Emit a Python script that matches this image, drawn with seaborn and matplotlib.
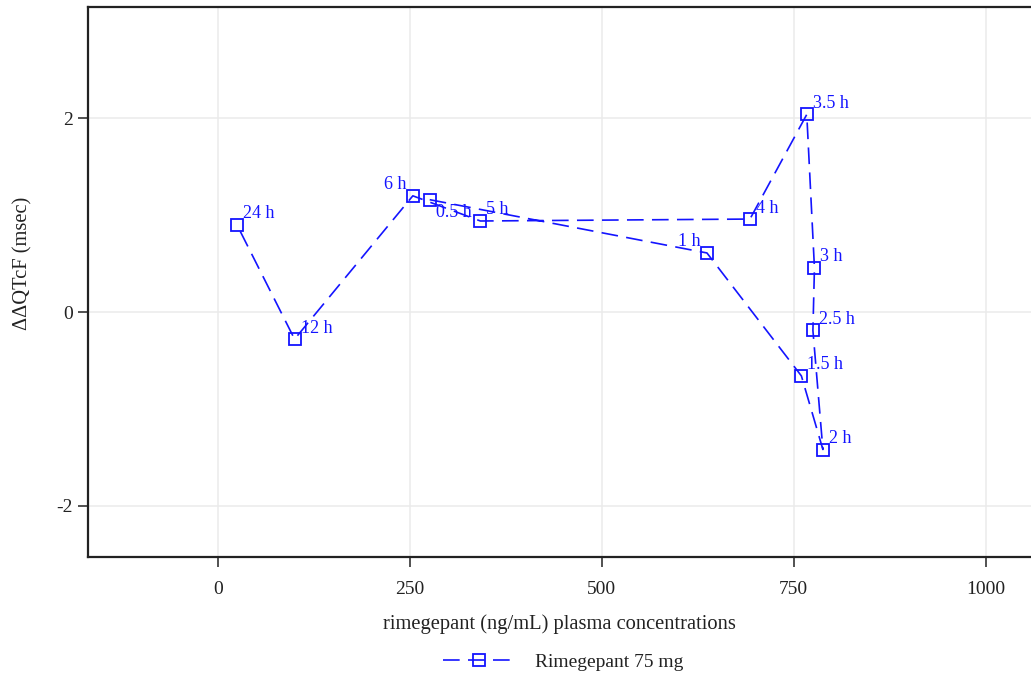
import numpy as np
import pandas as pd
import matplotlib
matplotlib.use("Agg")
import matplotlib.pyplot as plt
import seaborn as sns
from matplotlib.lines import Line2D

# Data
time_labels = ["0.5 h", "1 h", "1.5 h", "2 h", "2.5 h", "3 h", "3.5 h", "4 h", "5 h", "6 h", "12 h", "24 h"]
concentration = [276, 637, 760, 788, 775, 777, 767, 693, 342, 254, 100, 25]
ddqtcf = [1.16, 0.61, -0.66, -1.42, -0.19, 0.455, 2.04, 0.96, 0.94, 1.20, -0.28, 0.90]
label_side = ["below", "left", "right", "right", "right", "right", "right", "right", "right", "left", "right", "right"]
series_name = "Rimegepant 75 mg"

df = pd.DataFrame({"conc": concentration, "dd": ddqtcf, "lab": time_labels})

sns.set_theme(style="white")
plt.rcParams["font.family"] = ["Liberation Serif", "DejaVu Serif"]

fig = plt.figure(figsize=(10.31, 6.77), dpi=100)
ax = fig.add_axes([88 / 1031, 120 / 677, 1 - 88 / 1031, 550 / 677])

blue = "#1414ff"
dash = (0, (10, 5))
sns.lineplot(data=df, x="conc", y="dd", sort=False, estimator=None, ax=ax,
             color=blue, linewidth=1.2, linestyle=dash,
             marker="s", markersize=8, markerfacecolor="none",
             markeredgecolor=blue, markeredgewidth=1.3)

for xv, yv, lab, side in zip(df["conc"], df["dd"], df["lab"], label_side):
    if side == "right":
        off, ha, va = (6, 11), "left", "center"
    elif side == "left":
        off, ha, va = (-6, 11), "right", "center"
    else:
        off, ha, va = (6, -13), "left", "center"
    ax.annotate(lab, (xv, yv), xytext=off, textcoords="offset pixels",
                ha=ha, va=va, color=blue, fontsize=13)

ax.set_xlim(-169, 1059)
ax.set_ylim(-2.53, 3.15)
ax.set_xticks([0, 250, 500, 750, 1000])
ax.set_yticks([-2, 0, 2])
ax.set_yticklabels(["-2", "0", "2"])
ax.grid(True, color="#ebebeb", linewidth=1.1)
ax.set_axisbelow(True)

for s in ["left", "bottom", "top"]:
    ax.spines[s].set_color("#222222")
    ax.spines[s].set_linewidth(1.6)
ax.spines["right"].set_visible(False)

ax.tick_params(axis="both", which="both", direction="out", length=7, width=1.1,
               color="#222222", labelsize=14, labelcolor="#222222",
               left=True, bottom=True)
ax.tick_params(axis="y", pad=4)
ax.tick_params(axis="x", pad=10)

ax.set_xlabel("rimegepant (ng/mL) plasma concentrations", fontsize=14.8, color="#222222", labelpad=12)
ax.set_ylabel("ΔΔQTcF (msec)", fontsize=14.8, color="#222222")
ax.yaxis.set_label_coords(-(88 - 32) / (1031 - 88), 0.533)

handle = Line2D([], [], color=blue, linewidth=1.2, linestyle=dash, marker="s",
                markersize=8, markerfacecolor="none", markeredgecolor=blue, markeredgewidth=1.3)
fig.legend([handle], [series_name], loc="center", bbox_to_anchor=(563 / 1031, 1 - 662 / 677),
           frameon=False, fontsize=14, handlelength=3.7, handletextpad=1.0,
           labelcolor="#222222")

fig.savefig("out.png", dpi=100)
